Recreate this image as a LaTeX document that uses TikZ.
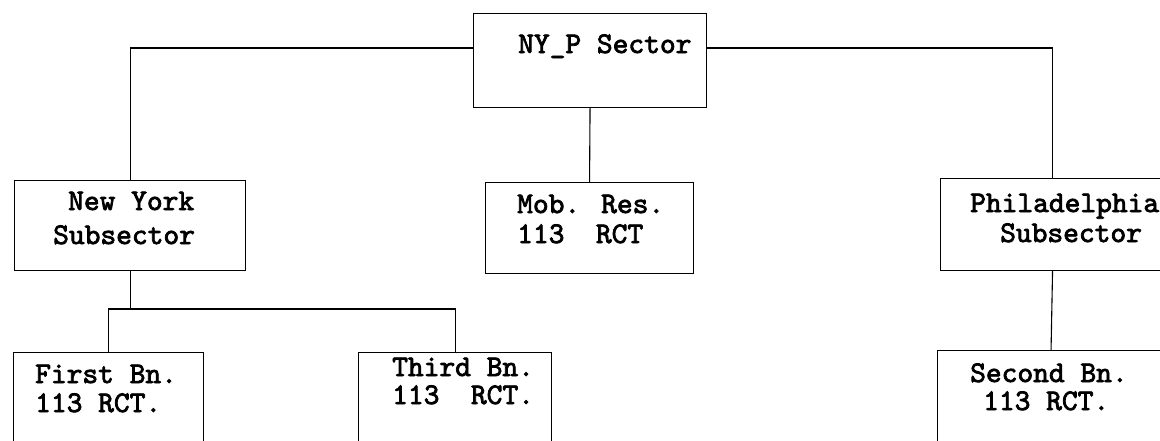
\documentclass[tikz,border=0pt]{standalone}
\usepackage{fontspec}
\newfontfamily\typewriter{lmmono10-regular.otf}[FakeBold=2.5]
\begin{document}
\begin{tikzpicture}[x=1pt,y=-1pt,
  orgbox/.style={draw=black, line width=1.1pt, rectangle, inner sep=0pt},
  txt/.style={anchor=base west, inner sep=0pt, font=\fontsize{30}{34}\selectfont\typewriter},
  conn/.style={draw=black, line width=1.1pt}]
\useasboundingbox (0,0) rectangle (1160,440);
\clip (0,0) rectangle (1160,440);
% boxes
\node[orgbox, minimum width=233pt, minimum height=94pt, anchor=north west] (top) at (473,13) {};
\node[orgbox, minimum width=231pt, minimum height=90pt, anchor=north west] (ny) at (14,180) {};
\node[orgbox, minimum width=208pt, minimum height=91pt, anchor=north west] (mob) at (485,182) {};
\node[orgbox, minimum width=224pt, minimum height=92pt, anchor=north west] (phil) at (940,178) {};
\node[orgbox, minimum width=190pt, minimum height=120pt, anchor=north west] (first) at (13,352) {};
\node[orgbox, minimum width=193pt, minimum height=120pt, anchor=north west] (third) at (358,352) {};
\node[orgbox, minimum width=227pt, minimum height=120pt, anchor=north west] (second) at (937,350) {};
% texts
\node[txt] (topt) at (518,53) {NY\_P Sector};
\node[txt] (ny1) at (68,210) {New York};
\node[txt] (ny2) at (53,244) {Subsector};
\node[txt] (mob1) at (517,213) {Mob. Res.};
\node[txt] (mob2) at (517,243) {113\ \ RCT};
\node[txt] (phil1) at (970,212) {Philadelphia};
\node[txt] (phil2) at (1000,242) {Subsector};
\node[txt] (first1) at (35,383) {First Bn.};
\node[txt] (first2) at (35,412) {113 RCT.};
\node[txt] (third1) at (392,376) {Third Bn.};
\node[txt] (third2) at (392,404) {113\ \ RCT.};
\node[txt] (second1) at (970,382) {Second Bn.};
\node[txt] (second2) at (983,410) {113 RCT.};
% connectors
\coordinate (bus) at (0,309);
\draw[conn] ([yshift=-35pt]top.north west) -| (ny.north);
\draw[conn] ([yshift=-35pt]top.north east) -| (phil.north);
\draw[conn] (top.south) -- (mob.north);
\draw[conn] (ny.south) -- (ny.south |- bus);
\draw[conn] (first.north) -- (first.north |- bus) -- (third.north |- bus) -- (third.north);
\draw[conn] (phil.south) -- (second.north);
\end{tikzpicture}
\end{document}
